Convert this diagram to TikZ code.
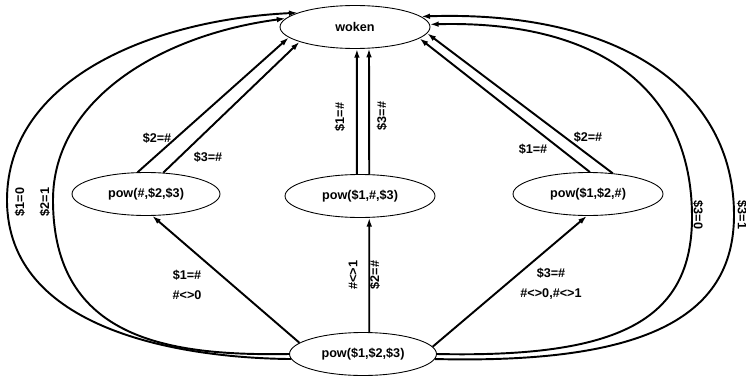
\documentclass[tikz,border=0pt]{standalone}
\usepackage{fontspec}
\setmainfont{Liberation Sans}
\usetikzlibrary{arrows.meta,shapes.geometric}

\begin{document}
\begin{tikzpicture}[x=0.02cm,y=-0.02cm,
  state/.style={ellipse,draw,line width=0.5pt,inner sep=0pt,minimum width=3cm,minimum height=0.86cm,font=\fontsize{7.2}{8.5}\selectfont\bfseries},
  trans/.style={-{Latex[length=5pt,width=3.2pt]},line width=1.1pt},
  lbl/.style={font=\fontsize{7.2}{8.5}\selectfont\bfseries,inner sep=0pt}]
\useasboundingbox (0,0) rectangle (746,375);

\node[state] (woken) at (355,27) {woken};
\node[state,minimum width=2.96cm] (p1) at (146,194) {pow(\#,\$2,\$3)};
\node[state] (p2) at (360,196) {pow(\$1,\#,\$3)};
\node[state] (p3) at (588,194) {pow(\$1,\$2,\#)};
\node[state,minimum width=2.94cm] (all) at (363,354) {pow(\$1,\$2,\$3)};

% straight transitions up to woken
\draw[trans] (p1.111) -- (woken.189);
\draw[trans] (p1.51) -- (woken.195);
\draw[trans] (p2.98) -- (woken.275);
\draw[trans] (p2.67) -- (woken.303);
\draw[trans] (p3.85) -- (woken.-10);
\draw[trans] (p3.40) -- (woken.-5);

% from the full call
\draw[trans] (all.170) -- (p1.286);
\draw[trans] (all.74) -- (p2.293);
\draw[trans] (all.6) -- (p3.267);

% big loops round the sides
\draw[trans] (all.184) .. controls (180,358) and (7,330) .. (7,200) .. controls (7,80) and (150,20) .. (woken.166);
\draw[trans] (all.180) .. controls (170,356) and (53,340) .. (53,200) .. controls (53,100) and (160,35) .. (woken.173);
\draw[trans] (all.-4) .. controls (640,364) and (734,320) .. (734,215) .. controls (734,90) and (620,10) .. (woken.9);
\draw[trans] (all.0) .. controls (620,358) and (692,320) .. (692,217) .. controls (692,90) and (600,20) .. (woken.2);

\node[lbl] (a2) at (157,138) {\$2=\#};
\node[lbl] (a3) at (208,157) {\$3=\#};
\node[lbl,rotate=90] (b1) at (340,117) {\$1=\#};
\node[lbl,rotate=90] (b3) at (382,116) {\$3=\#};
\node[lbl] (c1) at (533,149) {\$1=\#};
\node[lbl] (c2) at (588,137) {\$2=\#};

\node[lbl,align=center] (d1) at (187,285) {\$1=\#\\[3pt]\#<>0};
\node[lbl,rotate=90] (e1) at (353,275) {\#<>1};
\node[lbl,rotate=90] (e2) at (375,275) {\$2=\#};
\node[lbl,align=center] (f3) at (551,284) {\$3=\#\\[3pt]\#<>0,\#<>1};

\node[lbl,rotate=90] (g1) at (20,202) {\$1=0};
\node[lbl,rotate=90] (g2) at (45,202) {\$2=1};
\node[lbl,rotate=-90] (h0) at (698,215) {\$3=0};
\node[lbl,rotate=-90] (h1) at (742,215) {\$3=1};
\end{tikzpicture}
\end{document}
